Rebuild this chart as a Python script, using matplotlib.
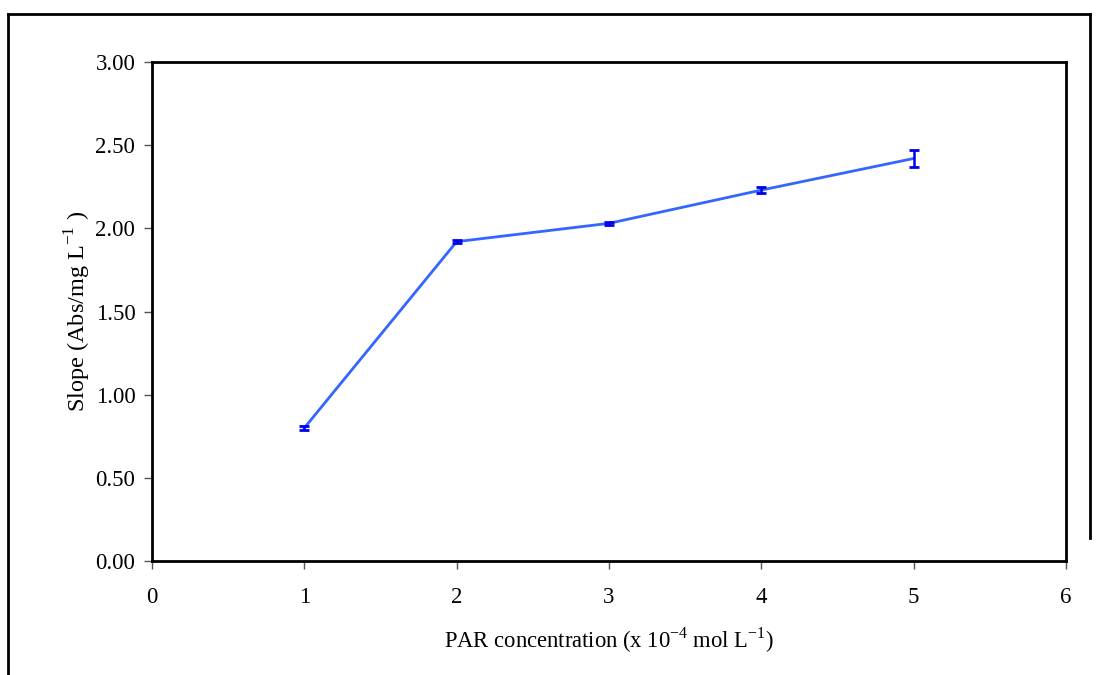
import matplotlib
matplotlib.use("Agg")
import matplotlib.pyplot as plt
from matplotlib.lines import Line2D

# Data
par_conc = [1, 2, 3, 4, 5]
slope = [0.80, 1.92, 2.03, 2.23, 2.42]
slope_err = [0.01, 0.01, 0.01, 0.02, 0.05]
xticks = [0, 1, 2, 3, 4, 5, 6]
yticks = [0.0, 0.5, 1.0, 1.5, 2.0, 2.5, 3.0]

plt.rcParams['font.family'] = ['Liberation Serif', 'DejaVu Serif']
plt.rcParams['mathtext.fontset'] = 'custom'
plt.rcParams['mathtext.rm'] = 'Liberation Serif'

W, H = 1101, 675
fig = plt.figure(figsize=(W / 100, H / 100), dpi=100)
ax = fig.add_axes([152 / W, 1 - 561 / H, (1066 - 152) / W, (561 - 62) / H])

ax.plot(par_conc, slope, color='#3366FF', lw=2, zorder=2)
ax.errorbar(par_conc, slope, yerr=slope_err, fmt='none', ecolor='#0000EE',
            elinewidth=1.8, capsize=3.5, capthick=2, zorder=3)

ax.set_xlim(0, 6)
ax.set_ylim(0, 3)
ax.set_xticks(xticks)
ax.set_yticks(yticks)
ax.set_yticklabels([f"{v:.2f}" for v in yticks])
ax.tick_params(axis='both', labelsize=16.5, direction='out', length=6, width=1,
               color='#555555')
ax.tick_params(axis='y', pad=6)
ax.tick_params(axis='x', pad=13)
for s in ax.spines.values():
    s.set_linewidth(2)
    s.set_color('black')

ax.set_ylabel("Slope (Abs/mg L$^{-1}$ )", fontsize=17.5, labelpad=2)
ax.set_xlabel("PAR concentration (x 10$^{-4}$ mol L$^{-1}$)", fontsize=16.3, labelpad=12)

# outer frame
def fl(x0, y0, x1, y1):
    fig.add_artist(Line2D([x0 / W, x1 / W], [1 - y0 / H, 1 - y1 / H],
                          color='black', lw=2, transform=fig.transFigure))

fl(8, 14, 1090, 14)
fl(8, 14, 8, 675)
fl(1090, 14, 1090, 538)

fig.savefig("out.png", dpi=100)
